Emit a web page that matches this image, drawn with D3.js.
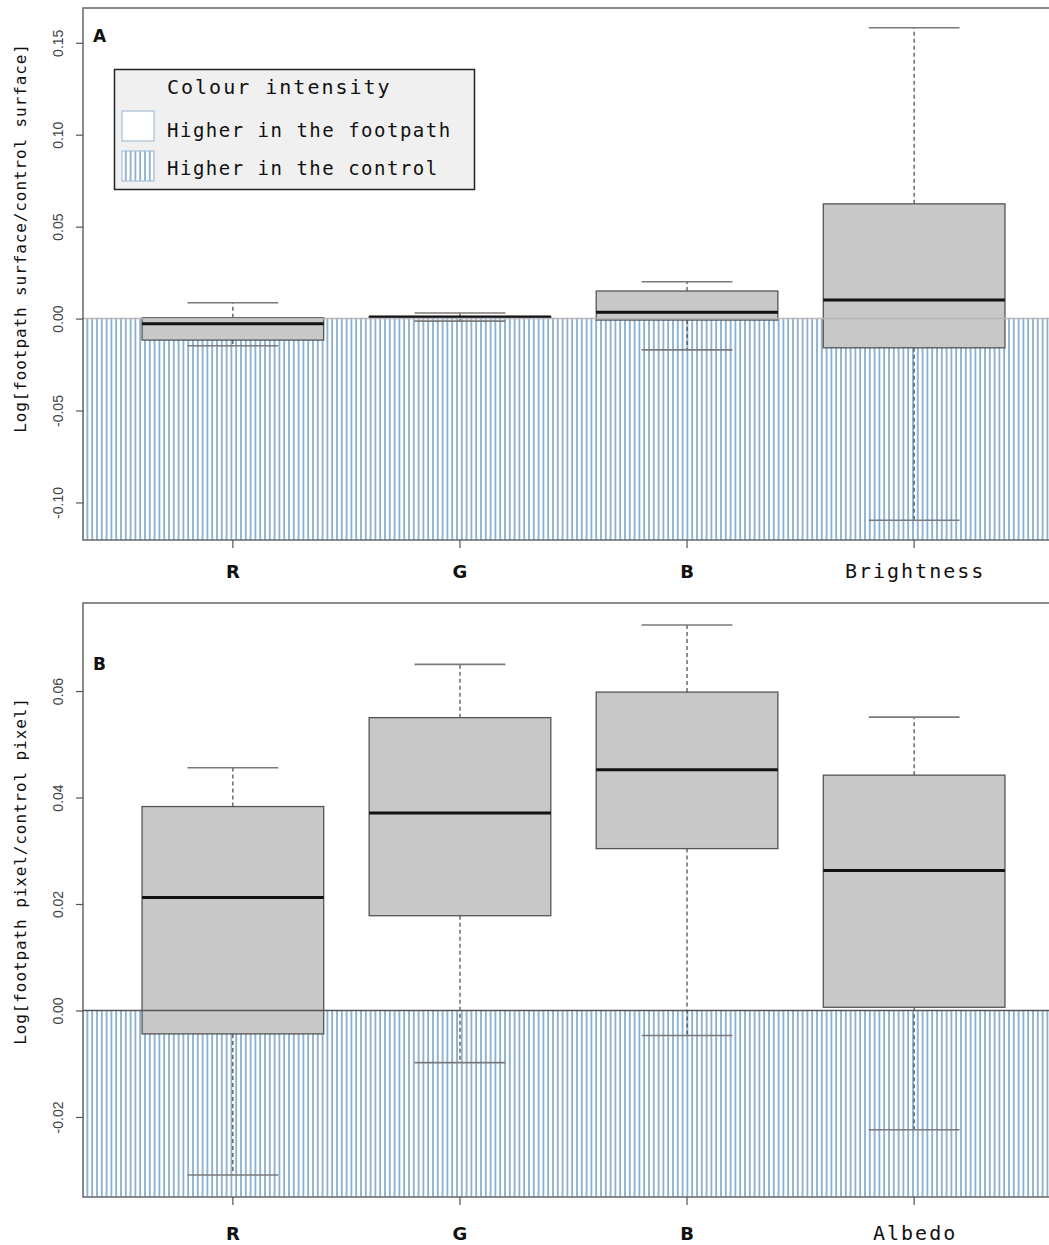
<!DOCTYPE html>
<html>
<head>
<meta charset="utf-8">
<script src="https://cdn.jsdelivr.net/npm/d3@7"></script>
<style>
  html, body { margin: 0; padding: 0; background: #ffffff; }
  svg { display: block; }
</style>
</head>
<body>
<svg id="chart" width="1049" height="1245"></svg>
<script>
// ---- Panel A: colour intensity of the surface ----
const catsA = ["R", "G", "B", "Brightness"];
const lowA  = [-0.0148, -0.0014, -0.0170, -0.1097];
const q1A   = [-0.0117,  0.0003, -0.0008, -0.0159];
const medA  = [-0.0028,  0.0008,  0.0035,  0.0101];
const q3A   = [ 0.0005,  0.0011,  0.0150,  0.0624];
const highA = [ 0.0086,  0.0030,  0.0200,  0.1582];
const ticksA = [-0.10, -0.05, 0.00, 0.05, 0.10, 0.15];
const tickLabelsA = ["-0.10", "-0.05", "0.00", "0.05", "0.10", "0.15"];

// ---- Panel B: pixel values ----
const catsB = ["R", "G", "B", "Albedo"];
const lowB  = [-0.0309, -0.0098, -0.0047, -0.0224];
const q1B   = [-0.0044,  0.0178,  0.0304,  0.0006];
const medB  = [ 0.0212,  0.0371,  0.0452,  0.0263];
const q3B   = [ 0.0383,  0.0550,  0.0598,  0.0442];
const highB = [ 0.0456,  0.0650,  0.0724,  0.0551];
const ticksB = [-0.02, 0.00, 0.02, 0.04, 0.06];
const tickLabelsB = ["-0.02", "0.00", "0.02", "0.04", "0.06"];

const legendTitle = "Colour intensity";
const legendItems = ["Higher in the footpath", "Higher in the control"];

const svg = d3.select("#chart");
const MONO = "'DejaVu Sans Mono', monospace";

// vertical hatch used for the "higher in the control" region
const defs = svg.append("defs");
const pat = defs.append("pattern")
  .attr("id", "vhatch")
  .attr("patternUnits", "userSpaceOnUse")
  .attr("width", 4.8).attr("height", 10);
pat.append("rect").attr("width", 4.8).attr("height", 10).attr("fill", "#ffffff");
pat.append("line")
  .attr("x1", 1).attr("x2", 1).attr("y1", 0).attr("y2", 10)
  .attr("stroke", "#6496c2").attr("stroke-width", 1.4);

function panel(opts) {
  const { cats, low, q1, med, q3, high, ticks, tickLabels, top, bottom, left, right,
          ylabel, ylabelY, letter, letterY, zeroColor, labelBaseline } = opts;
  const g = svg.append("g");

  // x: R boxplot layout, 4% padding on each side of [0.5, n+0.5]
  const n = cats.length;
  const unit = (right - left) / (n * 1.08);
  const x = d3.scaleBand().domain(cats)
    .range([left + 0.04 * n * unit, right - 0.04 * n * unit])
    .paddingInner(0).paddingOuter(0);
  const bw = x.bandwidth() * 0.8;

  // y: data range extended by 4%
  const lo = d3.min(low), hi = d3.max(high);
  const pad = (hi - lo) * 0.04;
  const y = d3.scaleLinear().domain([lo - pad, hi + pad]).range([bottom, top]);

  // hatched area below zero
  g.append("rect")
    .attr("x", left).attr("y", y(0))
    .attr("width", 1049 - left).attr("height", bottom - y(0))
    .attr("fill", "url(#vhatch)");

  const cx = d => x(d) + x.bandwidth() / 2;

  cats.forEach((c, i) => {
    const xc = cx(c);
    // whiskers
    g.append("line").attr("x1", xc).attr("x2", xc)
      .attr("y1", y(q3[i])).attr("y2", y(high[i]))
      .attr("stroke", "#444").attr("stroke-width", 1.2).attr("stroke-dasharray", "4,3");
    g.append("line").attr("x1", xc).attr("x2", xc)
      .attr("y1", y(q1[i])).attr("y2", y(low[i]))
      .attr("stroke", "#444").attr("stroke-width", 1.2).attr("stroke-dasharray", "4,3");
    // staples
    [low[i], high[i]].forEach(v => {
      g.append("line").attr("x1", xc - bw / 4).attr("x2", xc + bw / 4)
        .attr("y1", y(v)).attr("y2", y(v))
        .attr("stroke", "#7a7a7a").attr("stroke-width", 1.6);
    });
    // box
    g.append("rect")
      .attr("x", xc - bw / 2).attr("y", y(q3[i]))
      .attr("width", bw).attr("height", Math.max(0.5, y(q1[i]) - y(q3[i])))
      .attr("fill", "#c8c8c8").attr("stroke", "#555").attr("stroke-width", 1.3);
    // median
    g.append("line").attr("x1", xc - bw / 2).attr("x2", xc + bw / 2)
      .attr("y1", y(med[i])).attr("y2", y(med[i]))
      .attr("stroke", "#111").attr("stroke-width", 3);
  });

  // reference line at zero
  g.append("line").attr("x1", left).attr("x2", 1049)
    .attr("y1", y(0)).attr("y2", y(0))
    .attr("stroke", zeroColor).attr("stroke-width", 1.5);

  // frame
  g.append("rect").attr("x", left).attr("y", top)
    .attr("width", right - left).attr("height", bottom - top)
    .attr("fill", "none").attr("stroke", "#666").attr("stroke-width", 1.5);

  // y axis
  const yAxis = d3.axisLeft(y).tickValues(ticks)
    .tickFormat((d, i) => tickLabels[i]).tickSize(7).tickSizeOuter(0);
  const ya = g.append("g").attr("transform", `translate(${left},0)`).call(yAxis);
  ya.select(".domain").remove();
  ya.selectAll(".tick line").attr("stroke", "#555").attr("stroke-width", 1.2);
  ya.selectAll(".tick text")
    .attr("x", 0).attr("y", 0).attr("dy", 0)
    .attr("transform", "translate(-20,0) rotate(-90)")
    .attr("text-anchor", "middle")
    .attr("font-family", "'Liberation Sans', Arial, sans-serif")
    .attr("font-size", 14).attr("fill", "#444");

  // x axis ticks and labels
  const xAxis = d3.axisBottom(x).tickSize(8).tickSizeOuter(0).tickFormat("");
  const xa = g.append("g").attr("transform", `translate(0,${bottom})`).call(xAxis);
  xa.select(".domain").remove();
  xa.selectAll(".tick line").attr("stroke", "#555").attr("stroke-width", 1.2);

  cats.forEach(c => {
    const t = g.append("text").attr("x", cx(c)).attr("y", labelBaseline)
      .attr("text-anchor", "middle").attr("fill", "#111").text(c);
    if (c.length === 1) {
      t.attr("font-family", "'DejaVu Sans', sans-serif").attr("font-weight", "bold").attr("font-size", 18);
    } else {
      t.attr("font-family", MONO).attr("font-size", 20)
        .attr("letter-spacing", 2).attr("dx", 1);
    }
  });

  // y label
  g.append("text")
    .attr("transform", `translate(26,${ylabelY}) rotate(-90)`)
    .attr("text-anchor", "middle")
    .attr("font-family", MONO).attr("font-size", 16).attr("letter-spacing", 0.9)
    .attr("fill", "#111").text(ylabel);

  // panel letter
  g.append("text").attr("x", 93).attr("y", letterY)
    .attr("font-family", "'DejaVu Sans', sans-serif").attr("font-weight", "bold")
    .attr("font-size", 17).attr("fill", "#111").text(letter);

  return g;
}

panel({
  cats: catsA, low: lowA, q1: q1A, med: medA, q3: q3A, high: highA,
  ticks: ticksA, tickLabels: tickLabelsA,
  top: 8, bottom: 540, left: 83, right: 1064,
  ylabel: "Log[footpath surface/control surface]", ylabelY: 238,
  letter: "A", letterY: 42, zeroColor: "#b8b8b8", labelBaseline: 578
});

panel({
  cats: catsB, low: lowB, q1: q1B, med: medB, q3: q3B, high: highB,
  ticks: ticksB, tickLabels: tickLabelsB,
  top: 603, bottom: 1197, left: 83, right: 1064,
  ylabel: "Log[footpath pixel/control pixel]", ylabelY: 871,
  letter: "B", letterY: 670, zeroColor: "#555", labelBaseline: 1240
});

// legend (panel A)
const lg = svg.append("g");
lg.append("rect").attr("x", 114.5).attr("y", 69.5).attr("width", 360).attr("height", 120)
  .attr("fill", "#f0f0f0").attr("stroke", "#222").attr("stroke-width", 1.5);
lg.append("text").attr("x", 167).attr("y", 94)
  .attr("font-family", MONO).attr("font-size", 20).attr("letter-spacing", 2)
  .attr("fill", "#111").text(legendTitle);
const swFill = ["#ffffff", "url(#vhatch)"];
legendItems.forEach((t, i) => {
  const yy = 111 + i * 40;
  lg.append("rect").attr("x", 122).attr("y", yy).attr("width", 32).attr("height", 30)
    .attr("fill", swFill[i]).attr("stroke", "#a9bfd4").attr("stroke-width", 1.2);
  lg.append("text").attr("x", 167).attr("y", 137 + i * 37.5)
    .attr("font-family", MONO).attr("font-size", 19).attr("letter-spacing", 1.5)
    .attr("fill", "#111").text(t);
});
</script>
</body>
</html>
